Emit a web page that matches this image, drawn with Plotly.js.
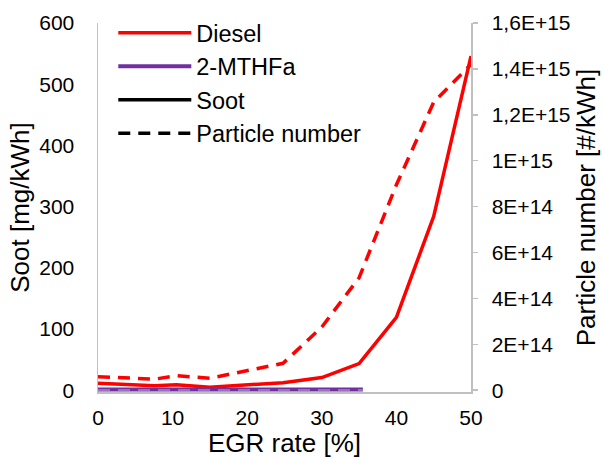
<!DOCTYPE html>
<html>
<head>
<meta charset="utf-8">
<script src="https://cdn.plot.ly/plotly-3.0.1.min.js"></script>
<style>html,body{margin:0;padding:0;background:#fff;}#chart{width:603px;height:458px;}</style>
</head>
<body>
<div id="chart"></div>
<script>
// EGR rate [%]
const egrDiesel = [0, 7.6, 10.5, 15, 24.8, 30, 35, 40, 45, 50];
const sootDiesel = [11.4, 7.3, 8.9, 4.9, 12.2, 20.6, 43.5, 119, 284, 546];
const pnDiesel = [5.9e13, 4.8e13, 6.3e13, 5.2e13, 1.17e14, 2.75e14, 4.9e14, 8.95e14, 1.255e15, 1.42e15];

const egrMTHF = [0, 7.6, 10.5, 15, 24.8, 30, 35.5];
const sootMTHF = [1.2, 1.0, 1.0, 0.8, 0.8, 1.0, 1.2];
const pnMTHF = [6e11, 5e11, 5e11, 4e11, 4e11, 5e11, 6e11];

const pnTickVals = [0, 2e14, 4e14, 6e14, 8e14, 1e15, 1.2e15, 1.4e15, 1.6e15];
const pnTickText = ['0', '2E+14', '4E+14', '6E+14', '8E+14', '1E+15', '1,2E+15', '1,4E+15', '1,6E+15'];

const RED = '#ff0000', PURPLE = '#7030a0';
const DASH = '12px,8px';

const traces = [
  {x: egrDiesel, y: sootDiesel, name: 'Diesel', mode: 'lines', line: {color: RED, width: 3.5}, yaxis: 'y'},
  {x: egrMTHF, y: sootMTHF, name: '2-MTHFa', mode: 'lines', line: {color: PURPLE, width: 4}, yaxis: 'y'},
  {x: [null], y: [null], name: 'Soot', mode: 'lines', line: {color: '#000', width: 3.5}, yaxis: 'y'},
  {x: [null], y: [null], name: 'Particle number', mode: 'lines', line: {color: '#000', width: 3.5, dash: DASH}, yaxis: 'y'},
  {x: egrDiesel, y: pnDiesel, name: 'Diesel PN', mode: 'lines', line: {color: RED, width: 3.5, dash: DASH}, yaxis: 'y2', showlegend: false},
  {x: egrMTHF, y: pnMTHF, name: '2-MTHFa PN', mode: 'lines', line: {color: '#9a70c0', width: 2, dash: DASH}, yaxis: 'y2', showlegend: false}
];

const FONT = 'Liberation Sans, Arial, sans-serif';
const layout = {
  width: 603, height: 458,
  margin: {l: 98, r: 132, t: 22, b: 66, pad: 0},
  paper_bgcolor: '#fff', plot_bgcolor: '#fff',
  font: {family: FONT, color: '#000', size: 21},
  showlegend: true,
  legend: {x: 0.041, y: 1.03, xanchor: 'left', yanchor: 'top', bgcolor: 'rgba(0,0,0,0)',
           font: {family: FONT, size: 23.5, color: '#000'}, itemwidth: 73, tracegroupgap: 0},
  xaxis: {range: [0, 50], dtick: 10, tick0: 0, showgrid: false, zeroline: false,
          showline: true, linecolor: '#c0c0c0', linewidth: 1.5, ticks: '', ticklabelstandoff: 6,
          tickfont: {size: 21}, title: {text: 'EGR rate [%]', font: {size: 26}, standoff: 6}},
  yaxis: {range: [-3, 600], tickvals: [0, 100, 200, 300, 400, 500, 600], tickmode: 'array', showgrid: false, zeroline: false,
          showline: true, linecolor: '#c0c0c0', linewidth: 1.5, ticks: '', ticklabelstandoff: 18,
          tickfont: {size: 21}, title: {text: 'Soot [mg/kWh]', font: {size: 26}, standoff: 2}},
  yaxis2: {overlaying: 'y', side: 'right', range: [-8e12, 1.6e15], tickmode: 'array',
           tickvals: pnTickVals, ticktext: pnTickText, showgrid: false, zeroline: false,
           showline: true, linecolor: '#c0c0c0', linewidth: 1.5, ticks: 'outside', ticklen: 5,
           tickcolor: '#c0c0c0', tickwidth: 1.5, ticklabelstandoff: 10,
           tickfont: {size: 21}, title: {text: 'Particle number [#/kWh]', font: {size: 26}, standoff: 6}}
};

Plotly.newPlot('chart', traces, layout, {staticPlot: true, displayModeBar: false});
</script>
</body>
</html>
